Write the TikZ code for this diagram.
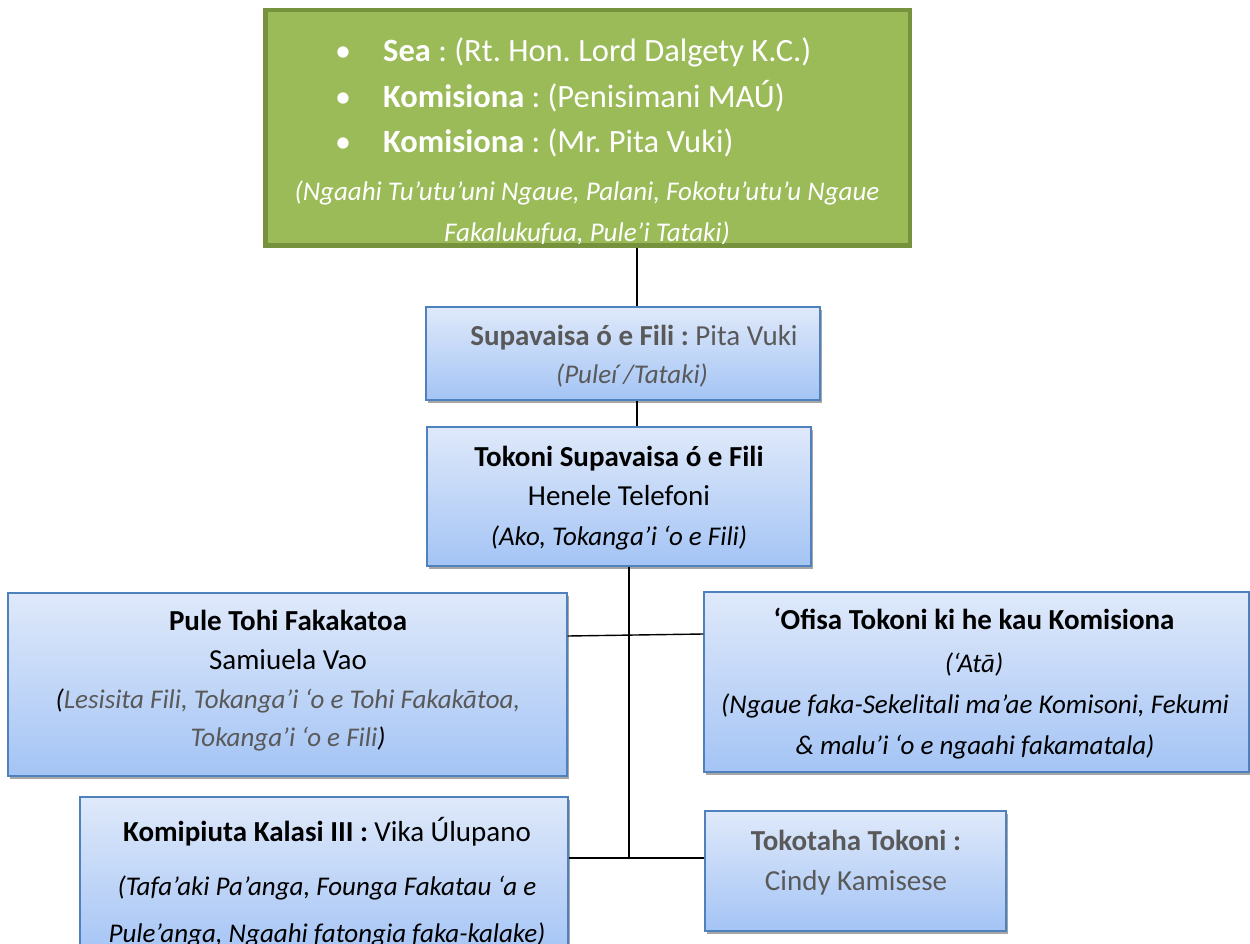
\documentclass[tikz,border=0pt]{standalone}
\usepackage{fontspec}
\setmainfont{Carlito}
\usetikzlibrary{shadows}
\frenchspacing
\definecolor{gfill}{RGB}{155,187,89}
\definecolor{gdraw}{RGB}{118,146,60}
\definecolor{bdraw}{RGB}{79,129,189}
\definecolor{btop}{RGB}{223,233,250}
\definecolor{bbot}{RGB}{164,196,245}
\definecolor{tgray}{RGB}{89,89,89}
\begin{document}
\begin{tikzpicture}[x=1pt,y=-1pt,
  bluebox/.style={draw=bdraw,line width=1.3pt,top color=btop,bottom color=bbot,
    drop shadow={shadow xshift=2pt,shadow yshift=-3pt,opacity=0.35,fill=black},inner sep=0pt},
  greenbox/.style={draw=gdraw,line width=4.5pt,fill=gfill,inner sep=0pt,
    drop shadow={shadow xshift=2pt,shadow yshift=-2pt,opacity=0.3,fill=black}},
  ln/.style={anchor=mid,inner sep=0pt,font=\fontsize{29}{34}\selectfont},
  il/.style={anchor=mid,inner sep=0pt,font=\fontsize{27}{32}\selectfont\itshape},
  gl/.style={anchor=mid west,inner sep=0pt,text=white,font=\fontsize{32.5}{38}\selectfont},
  gb/.style={anchor=mid,inner sep=0pt,text=white,font=\fontsize{32}{38}\selectfont},
  conn/.style={line width=1.4pt,draw=black}]
\useasboundingbox (0,0) rectangle (1250,944);
\fill[white] (0,0) rectangle (1250,944);

% boxes
\node[greenbox,minimum width=644.5pt,minimum height=235pt] (green) at (587.5,127.75) {};
\node[bluebox,minimum width=394pt,minimum height=93pt] (sup) at (623,353.5) {};
\node[bluebox,minimum width=384pt,minimum height=139pt] (tok) at (619,496.5) {};
\node[bluebox,minimum width=559pt,minimum height=183pt] (pule) at (287.5,684.5) {};
\node[bluebox,minimum width=545pt,minimum height=180pt] (ofisa) at (976.5,682) {};
\node[bluebox,minimum width=488pt,minimum height=160pt] (kom) at (324,877) {};
\node[bluebox,minimum width=301pt,minimum height=120pt] (toko) at (855.5,871) {};

% green text
\node[gb] (b1) at (343,59) {•};
\node[gl] (t1) at (383,59) {\textbf{Sea} : (Rt. Hon. Lord Dalgety K.C.)};
\node[gb] (b2) at (343,105) {•};
\node[gl] (t2) at (383,105) {\textbf{Komisiona} : (Penisimani MAÚ)};
\node[gb] (b3) at (343,150) {•};
\node[gl] (t3) at (383,150) {\textbf{Komisiona} : (Mr. Pita Vuki)};
\node[il,text=white] (t4) at (587,198) {(Ngaahi Tu’utu’uni Ngaue, Palani, Fokotu’utu’u Ngaue};
\begin{scope}
  \clip ([xshift=4.5pt,yshift=4.5pt]green.south west) rectangle ([xshift=-4.5pt,yshift=-4.5pt]green.north east);
  \node[il,text=white] (t5) at (587,239.5) {Fakalukufua, Pule’i Tataki)};
\end{scope}

% sup
\node[ln,text=tgray] (s1) at (634,343) {\textbf{Supavaisa ó e Fili :} Pita Vuki};
\node[il,text=tgray] (s2) at (632,381) {(Puleí /Tataki)};
% tok
\node[ln] (k1) at (619,464) {\textbf{Tokoni Supavaisa ó e Fili}};
\node[ln] (k2) at (619,503) {Henele Telefoni};
\node[il] (k3) at (619,543) {(Ako, Tokanga’i ‘o e Fili)};
% pule
\node[ln] (p1) at (288,628) {\textbf{Pule Tohi Fakakatoa}};
\node[ln] (p2) at (288,667) {Samiuela Vao};
\node[il] (p3) at (288,706) {(\textcolor{tgray}{Lesisita Fili, Tokanga’i ‘o e Tohi Fakakātoa,}};
\node[il] (p4) at (288,744) {\textcolor{tgray}{Tokanga’i ‘o e Fili})};
% ofisa
\node[ln] (o1) at (974,627) {\textbf{‘Ofisa Tokoni ki he kau Komisiona}};
\node[il] (o2) at (974,670) {(‘Atā)};
\node[il] (o3) at (975,711) {(Ngaue faka-Sekelitali ma’ae Komisoni, Fekumi};
\node[il] (o4) at (975,752) {\& malu’i ‘o e ngaahi fakamatala)};
% kom
\node[ln] (m1) at (327,839) {\textbf{Komipiuta Kalasi III :} Vika Úlupano};
\node[il] (m2) at (327,893) {(Tafa’aki Pa’anga, Founga Fakatau ‘a e};
\begin{scope}
  \clip (0,0) rectangle (1250,944);
  \node[il] (m3) at (327,940) {Pule’anga, Ngaahi fatongia faka-kalake)};
\end{scope}
% toko
\node[ln,text=tgray] (c1) at (856,848) {\textbf{Tokotaha Tokoni :}};
\node[ln,text=tgray] (c2) at (856,888) {Cindy Kamisese};

% connectors
\coordinate (va) at (637,280);
\coordinate (vb) at (629,700);
\coordinate (hy1) at (600,636);
\coordinate (hy2) at (600,858);
\draw[conn] (green.south -| va) -- (sup.north -| va);
\draw[conn] (sup.south -| va) -- (tok.north -| va);
\draw[conn] (tok.south -| vb) -- (hy2 -| vb);
\draw[conn] (pule.east |- hy1) -- ([yshift=2pt]ofisa.west |- hy1);
\draw[conn] (kom.east |- hy2) -- (toko.west |- hy2);
\end{tikzpicture}
\end{document}
